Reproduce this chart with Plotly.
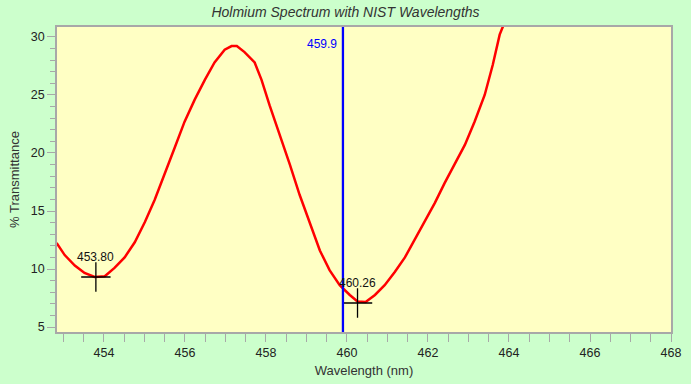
import plotly.graph_objects as go

# Spectrum data
wavelength = [452.83, 453.03, 453.28, 453.52, 453.77, 454.02, 454.26, 454.51, 454.76,
              455.01, 455.25, 455.50, 455.75, 455.99, 456.24, 456.49, 456.73, 456.98,
              457.15, 457.28, 457.47, 457.72, 457.89, 458.09, 458.34, 458.59, 458.83,
              459.08, 459.33, 459.57, 459.82, 460.07, 460.26, 460.46, 460.69, 460.93,
              461.18, 461.43, 461.67, 461.92, 462.17, 462.41, 462.66, 462.91, 463.15,
              463.40, 463.60, 463.77, 463.85, 463.95]
transmittance = [12.24, 11.2, 10.3, 9.66, 9.32, 9.38, 10.1, 11.0, 12.3,
                 14.05, 15.95, 18.3, 20.5, 22.7, 24.6, 26.3, 27.8, 28.9,
                 29.22, 29.22, 28.7, 27.8, 26.3, 24.1, 21.6, 19.0, 16.4,
                 14.05, 11.6, 9.9, 8.6, 7.76, 7.2, 7.15, 7.76, 8.6,
                 9.74, 11.0, 12.5, 14.05, 15.7, 17.4, 19.0, 20.7, 22.7,
                 25.0, 27.6, 30.2, 30.9, 32.0]

# Detected peaks
peak_wl = [453.80, 460.26]
peak_t = [9.31, 7.07]
peak_labels = ["453.80", "460.26"]

# NIST reference wavelength
nist_wl = [459.9]
nist_labels = ["459.9"]

x_range = [452.84, 468.0]
y_range = [4.57, 30.86]
x_ticks = [454, 456, 458, 460, 462, 464, 466, 468]
y_ticks = [5, 10, 15, 20, 25, 30]

FONT = "Liberation Sans, Arial, sans-serif"
GRID = "#A8A8A8"

fig = go.Figure()

fig.add_trace(go.Scatter(
    x=wavelength, y=transmittance, mode="lines",
    line=dict(color="#FF0000", width=2.5), showlegend=False, hoverinfo="skip"))

fig.add_trace(go.Scatter(
    x=peak_wl, y=peak_t, mode="markers",
    marker=dict(symbol="cross-thin", size=21, color="black",
                line=dict(color="black", width=1.3)),
    showlegend=False, hoverinfo="skip"))

for wl, t, lab in zip(peak_wl, peak_t, peak_labels):
    fig.add_annotation(x=wl, y=t, text=lab, showarrow=False, yshift=20,
                       font=dict(family=FONT, size=12, color="#111111"))

for wl, lab in zip(nist_wl, nist_labels):
    fig.add_vline(x=wl, line=dict(color="#0000FF", width=2.3))
    fig.add_annotation(x=wl, y=1, yref="paper", text=lab, showarrow=False,
                       xanchor="right", yanchor="top", xshift=-4, yshift=-8,
                       font=dict(family=FONT, size=12, color="#0000FF"))

fig.update_layout(
    width=691, height=384,
    paper_bgcolor="#CCFFCC", plot_bgcolor="#FFFFC4",
    margin=dict(l=57, r=20, t=27, b=52, autoexpand=False),
    title=dict(text="Holmium Spectrum with NIST Wavelengths", x=0.5, xanchor="center",
               xref="container", y=1 - 12 / 384, yref="container", yanchor="middle",
               automargin=False,
               font=dict(family=FONT, size=14, color="#333333", style="italic")),
    font=dict(family=FONT, size=12, color="#222222"),
)

fig.update_xaxes(
    range=x_range, tickvals=x_ticks, ticks="outside", ticklen=8, tickwidth=1.3,
    tickcolor=GRID, showgrid=False, zeroline=False, automargin=False,
    showline=True, mirror=True, linecolor=GRID, linewidth=1.5,
    tickfont=dict(family=FONT, size=12.5, color="#222222"),
    minor=dict(dtick=0.5, tick0=454, ticks="outside", ticklen=8, tickwidth=1.3,
               tickcolor=GRID, showgrid=False),
    title=dict(text="Wavelength (nm)", standoff=7,
               font=dict(family=FONT, size=13, color="#333333")))

fig.update_yaxes(
    range=y_range, tickvals=y_ticks, ticks="outside", ticklen=8, tickwidth=1.3,
    tickcolor=GRID, showgrid=False, zeroline=False, automargin=False,
    showline=True, mirror=True, linecolor=GRID, linewidth=1.5,
    tickfont=dict(family=FONT, size=12.5, color="#222222"),
    minor=dict(dtick=1, tick0=5, ticks="outside", ticklen=5, tickwidth=1.3,
               tickcolor=GRID, showgrid=False),
    title=dict(text="% Transmittance", standoff=8,
               font=dict(family=FONT, size=13, color="#333333")))

fig.write_html("out.html",
               config={"displayModeBar": False},
               post_script="document.body.style.margin='0';"
                           "document.body.style.overflow='hidden';")
